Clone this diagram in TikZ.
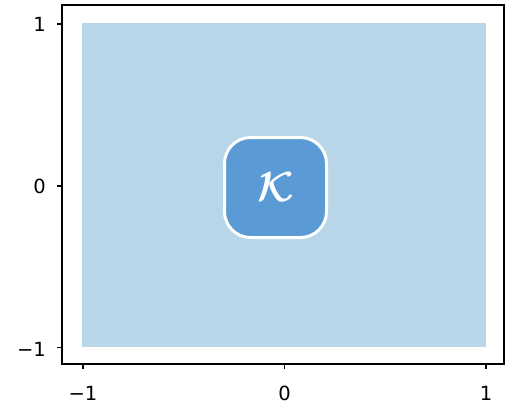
\documentclass[tikz,border=0pt]{standalone}
\usepackage{amsmath}
\usepackage{fontspec}
\setmainfont{DejaVu Sans}
\definecolor{lightfill}{RGB}{185,213,232}
\definecolor{boxfill}{RGB}{91,155,213}
\tikzset{
  ticklab/.style={font=\fontsize{19.5}{22}\selectfont, inner sep=0pt},
  spine/.style={line width=1.4pt, black},
  tickmark/.style={line width=1.2pt, black},
}
\begin{document}
\begin{tikzpicture}[x=1pt,y=-1pt]
\useasboundingbox (0,0) rectangle (505,405);
\fill[lightfill] (82,23) rectangle (486,347);
\node[draw=white, line width=3pt, fill=boxfill, rounded corners=26pt,
      minimum width=102pt, minimum height=100pt, inner sep=0pt]
  (K) at (275.5,187.5) {};
\node[text=white, inner sep=0pt] (Klab) at (K.center)
  {\scalebox{4.2}{$\boldsymbol{\mathcal{K}}$}};
\draw[spine] (62,5) rectangle (504,364);
% x ticks
\coordinate (xa) at (83,364);
\coordinate (xb) at (284.5,364);
\coordinate (xc) at (486,364);
\foreach \c in {xa,xb,xc} \draw[tickmark] (\c) -- ++(0,5);
\node[ticklab] (xla) at (83,393) {−1};
\node[ticklab] (xlb) at (284.5,393) {0};
\node[ticklab] (xlc) at (486,393) {1};
% y ticks
\coordinate (ya) at (62,24);
\coordinate (yb) at (62,186);
\coordinate (yc) at (62,347.5);
\foreach \c in {ya,yb,yc} \draw[tickmark] (\c) -- ++(-5,0);
\node[ticklab, anchor=east] (yla) at (46,24) {1};
\node[ticklab, anchor=east] (ylb) at (46,186) {0};
\node[ticklab, anchor=east] (ylc) at (46,349) {−1};
\end{tikzpicture}
\end{document}
